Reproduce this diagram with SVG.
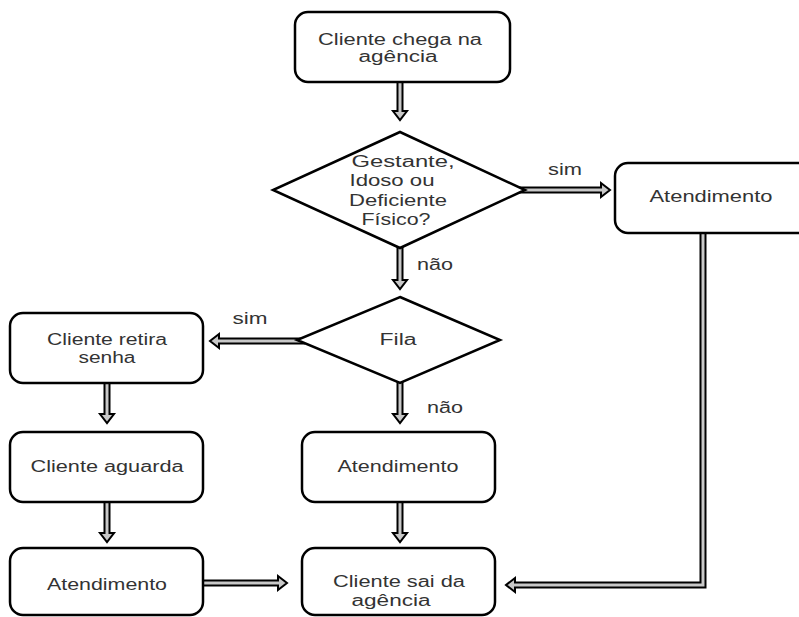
<svg xmlns="http://www.w3.org/2000/svg" width="799" height="617" viewBox="0 0 799 617">
<style>
.box{fill:#fff;stroke:#000;stroke-width:2.5}
.dia{fill:#fff;stroke:#000;stroke-width:2.5;stroke-linejoin:miter}
.arr{fill:#c8c8c8;stroke:#000;stroke-width:2;stroke-linejoin:miter}
text{font-family:"Liberation Sans",Arial,sans-serif;font-size:16px;fill:#333;text-anchor:middle}
</style>
<rect width="799" height="617" fill="#fff"/>
<g id="connectors">
<path class="arr" d="M397.5,78 V111 H393 L400,120 L407,111 H402.5 V78 Z"/>
<path class="arr" d="M520,187.5 H601 V183 L610,190 L601,197 V192.5 H520 Z"/>
<path class="arr" d="M397.5,240 V280 H393 L400,289 L407,280 H402.5 V240 Z"/>
<path class="arr" d="M304,338.5 H219 V334 L210,341 L219,348 V343.5 H304 Z"/>
<path class="arr" d="M397.5,378 V414 H393 L400,423 L407,414 H402.5 V378 Z"/>
<path class="arr" d="M104.5,378 V414 H100 L107,423 L114,414 H109.5 V378 Z"/>
<path class="arr" d="M104.5,497 V533 H100 L107,542 L114,533 H109.5 V497 Z"/>
<path class="arr" d="M397.5,497 V533 H393 L400,542 L407,533 H402.5 V497 Z"/>
<path class="arr" d="M198,580.5 H278 V576 L287,583 L278,590 V585.5 H198 Z"/>
<path class="arr" d="M700.5,228 V582.5 H515 V578 L506,585 L515,592 V587.5 H705.5 V228 Z"/>
<text x="565" y="175" textLength="34" lengthAdjust="spacingAndGlyphs">sim</text>
<text x="435" y="270" textLength="36" lengthAdjust="spacingAndGlyphs">não</text>
<text x="250" y="324" textLength="35" lengthAdjust="spacingAndGlyphs">sim</text>
<text x="445" y="413" textLength="36" lengthAdjust="spacingAndGlyphs">não</text>
</g>
<g id="n1"><rect class="box" x="295" y="12" width="215" height="70" rx="13"/>
<text x="400" y="45" textLength="164" lengthAdjust="spacingAndGlyphs">Cliente chega na</text>
<text x="398" y="62" textLength="79" lengthAdjust="spacingAndGlyphs">agência</text></g>
<g id="d1"><polygon class="dia" points="400,132 525,190 400,248 273,190"/>
<text x="403" y="167" textLength="103" lengthAdjust="spacingAndGlyphs">Gestante,</text>
<text x="392" y="186" textLength="85" lengthAdjust="spacingAndGlyphs">Idoso ou</text>
<text x="398" y="206" textLength="98" lengthAdjust="spacingAndGlyphs">Deficiente</text>
<text x="396" y="225" textLength="69" lengthAdjust="spacingAndGlyphs">Físico?</text></g>
<g id="n2"><rect class="box" x="615" y="163" width="205" height="70" rx="13"/>
<text x="711" y="202" textLength="123" lengthAdjust="spacingAndGlyphs">Atendimento</text></g>
<g id="d2"><polygon class="dia" points="400,297 500,340 400,383 297,340"/>
<text x="398" y="345" textLength="37" lengthAdjust="spacingAndGlyphs">Fila</text></g>
<g id="n3"><rect class="box" x="10" y="313" width="193" height="70" rx="13"/>
<text x="107" y="345" textLength="120" lengthAdjust="spacingAndGlyphs">Cliente retira</text>
<text x="107" y="363" textLength="57" lengthAdjust="spacingAndGlyphs">senha</text></g>
<g id="n4"><rect class="box" x="10" y="432" width="193" height="70" rx="13"/>
<text x="107" y="472" textLength="153" lengthAdjust="spacingAndGlyphs">Cliente aguarda</text></g>
<g id="n5"><rect class="box" x="302" y="432" width="193" height="70" rx="13"/>
<text x="398" y="472" textLength="121" lengthAdjust="spacingAndGlyphs">Atendimento</text></g>
<g id="n6"><rect class="box" x="10" y="548" width="193" height="67" rx="13"/>
<text x="107" y="590" textLength="120" lengthAdjust="spacingAndGlyphs">Atendimento</text></g>
<g id="n7"><rect class="box" x="302" y="548" width="193" height="67" rx="13"/>
<text x="399" y="587" textLength="132" lengthAdjust="spacingAndGlyphs">Cliente sai da</text>
<text x="391" y="606" textLength="79" lengthAdjust="spacingAndGlyphs">agência</text></g>
</svg>
